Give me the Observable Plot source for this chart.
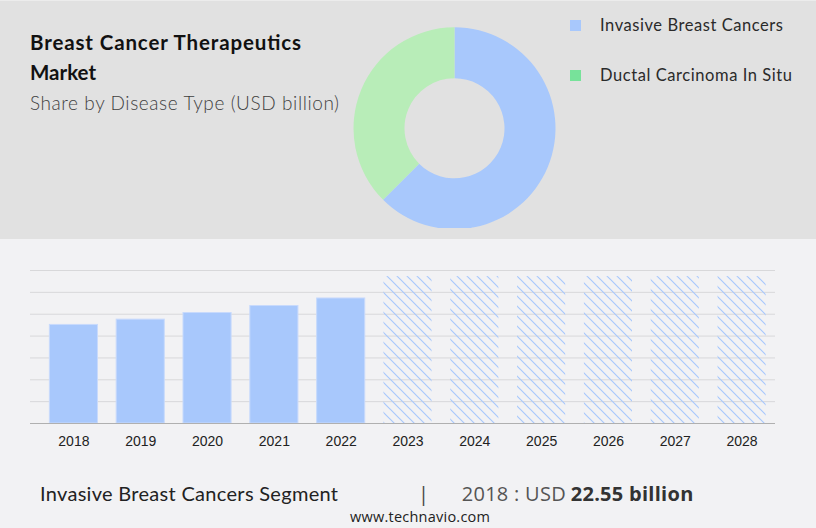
<!DOCTYPE html>
<html>
<head>
<meta charset="utf-8">
<script src="https://cdn.jsdelivr.net/npm/d3@7"></script>
<script src="https://cdn.jsdelivr.net/npm/@observablehq/plot@0.6"></script>
<style>
  html, body { margin: 0; padding: 0; background: #f2f2f4; }
  #page { position: relative; width: 816px; height: 528px; overflow: hidden; background: #f2f2f4; }
  #top { position: absolute; left: 0; top: 0; width: 816px; height: 239px; background: #e1e1e1; border-top: 1px solid #ececec; box-sizing: border-box; }
  #donut { position: absolute; left: 350px; top: 0; }
  #bars { position: absolute; left: 0; top: 239px; }
  #overlay { position: absolute; left: 0; top: 0; pointer-events: none; }
</style>
</head>
<body>
<div id="page">
  <div id="top"></div>
  <div id="donut"></div>
  <div id="bars"></div>
  <svg id="overlay" width="816" height="528" xmlns="http://www.w3.org/2000/svg">
    <text x="30" y="50" font-family="Lato" font-weight="700" font-size="20.5" fill="#111" textLength="271" lengthAdjust="spacing">Breast Cancer Therapeutics</text>
    <text x="30" y="80" font-family="Lato" font-weight="700" font-size="20.5" fill="#111">Market</text>
    <text x="30" y="110" font-family="Lato" font-weight="300" font-size="19" fill="#3f3f3f" textLength="309" lengthAdjust="spacing">Share by Disease Type (USD billion)</text>
    <g id="legend"></g>
    <text x="40" y="500.7" font-family="Lato" font-weight="400" font-size="20" fill="#222" textLength="298" lengthAdjust="spacing">Invasive Breast Cancers Segment</text>
    <text x="418" y="500.7" font-family="Open Sans" font-size="20" fill="#444">|</text>
    <text x="461.7" y="500.7" font-family="Open Sans" font-size="20" fill="#555" textLength="104" lengthAdjust="spacing">2018 : USD</text>
    <text x="570.7" y="500.7" font-family="Open Sans" font-weight="700" font-size="20" fill="#333" textLength="122.6" lengthAdjust="spacing">22.55 billion</text>
    <text x="350" y="521.5" font-family="Open Sans" font-size="14.5" fill="#222" textLength="140" lengthAdjust="spacing">www.technavio.com</text>
  </svg>
</div>
<script>
// ---- Data ----
const segments = ["Invasive Breast Cancers", "Ductal Carcinoma In Situ"];
const shares = [62.5, 37.5];
const segmentColors = ["#a8c8fc", "#b8edb8"];
const legendColors = ["#a8c8fc", "#77e29a"];

const years = ["2018","2019","2020","2021","2022","2023","2024","2025","2026","2027","2028"];
const actualYears = ["2018","2019","2020","2021","2022"];
const actualValues = [22.55, 23.76, 25.28, 26.88, 28.6];
const forecastYears = ["2023","2024","2025","2026","2027","2028"];
const forecastValues = [33.6, 33.6, 33.6, 33.6, 33.6, 33.6];
const gridTicks = [5, 10, 15, 20, 25, 30, 35];

// ---- Legend ----
const legend = d3.select("#legend");
const legendTops = [20, 70];
const legendWidths = [183, 192];
segments.forEach((s, i) => {
  legend.append("rect").attr("x", 570).attr("y", legendTops[i]).attr("width", 11).attr("height", 11).attr("fill", legendColors[i]);
  legend.append("text").attr("x", 600).attr("y", legendTops[i] + 10.5)
    .attr("font-family", "Lato").attr("font-size", 16.5).attr("fill", "#2a2a2a")
    .attr("textLength", legendWidths[i]).attr("lengthAdjust", "spacing").text(s);
});

// ---- Donut ----
const donutData = segments.map((s, i) => ({segment: s, share: shares[i], color: segmentColors[i]}));
const donut = Plot.plot({
  width: 210, height: 228, margin: 0,
  style: {background: "transparent", overflow: "hidden"},
  marks: [
    (index, scales, values, dimensions) => {
      const g = d3.create("svg:g").attr("transform", `translate(104.5,128.3)`);
      const pie = d3.pie().sort(null).value(d => d.share);
      const arc = d3.arc().innerRadius(50).outerRadius(101);
      g.selectAll("path").data(pie(donutData)).join("path")
        .attr("d", arc).attr("fill", d => d.data.color);
      return g.node();
    }
  ]
});
document.getElementById("donut").appendChild(donut);

// ---- Bars ----
const actual = actualYears.map((y, i) => ({year: y, value: actualValues[i]}));
const forecast = forecastYears.map((y, i) => ({year: y, value: forecastValues[i]}));

const bars = Plot.plot({
  width: 816, height: 220,
  marginLeft: 30, marginRight: 41, marginTop: 31, marginBottom: 36,
  style: {background: "transparent", fontFamily: "'Liberation Sans', Arial, sans-serif", fontSize: "14px", color: "#222", overflow: "visible"},
  x: {domain: years, range: [40, 775], round: false, paddingInner: 0.28, paddingOuter: 0.14, label: null, tickSize: 0, tickPadding: 13},
  y: {domain: [0, 35], axis: null},
  marks: [
    () => {
      const defs = d3.create("svg:defs");
      const p = defs.append("pattern").attr("id", "hatch").attr("patternUnits", "userSpaceOnUse")
        .attr("width", 10).attr("height", 10);
      p.append("path").attr("d", "M-1,-1L11,11M-1,9L1,11M9,-1L11,1")
        .attr("stroke", "#a8c8fc").attr("stroke-width", 1.2).attr("fill", "none");
      return defs.node();
    },
    Plot.ruleY(gridTicks, {stroke: "#d8d8da", strokeWidth: 1}),
    Plot.barY(actual, {x: "year", y: "value", fill: "#a8c8fc", stroke: "#c8dafc", strokeWidth: 1}),
    Plot.barY(forecast, {x: "year", y: "value", fill: "url(#hatch)"}),
    Plot.ruleY([0], {stroke: "#b0b0b0", strokeWidth: 1})
  ]
});
document.getElementById("bars").appendChild(bars);
</script>
</body>
</html>
